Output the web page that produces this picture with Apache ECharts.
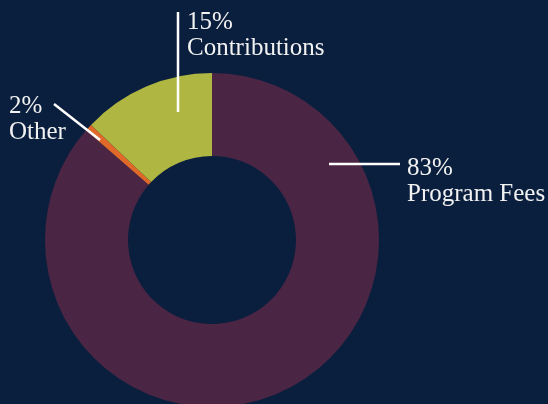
<!DOCTYPE html>
<html>
<head>
<meta charset="utf-8">
<script src="https://cdn.jsdelivr.net/npm/echarts@6/dist/echarts.min.js"></script>
<style>
  html, body { margin: 0; padding: 0; background: #0a1f3d; }
  #chart { width: 548px; height: 404px; }
</style>
</head>
<body>
<div id="chart"></div>
<script>
// slice names, drawn shares and printed labels
const categories = ['Program Fees', 'Other', 'Contributions'];
const shares = [86.4, 0.7, 12.9];
const percentLabels = ['83%', '2%', '15%'];
const sliceColors = ['#4a2544', '#e0692a', '#afb642'];

// where each callout sits (label top-left, and its leader line ends)
const callouts = [
  { x: 407, y: 155, line: [329, 164, 400, 164] },
  { x: 9, y: 93, line: [100, 140, 54, 104] },
  { x: 187, y: 9, line: [178, 112, 178, 12] },
];

const chart = echarts.init(document.getElementById('chart'));

chart.setOption({
  backgroundColor: '#0a1f3d',
  animation: false,
  graphic: callouts.map((c) => ({
    type: 'line',
    z: 100,
    shape: { x1: c.line[0], y1: c.line[1], x2: c.line[2], y2: c.line[3] },
    style: { stroke: '#ffffff', lineWidth: 2.5 },
  })),
  series: [
    {
      type: 'pie',
      center: [212, 240],
      radius: [84, 167],
      startAngle: 90,
      clockwise: true,
      avoidLabelOverlap: false,
      itemStyle: { borderWidth: 0 },
      label: {
        show: true,
        color: '#f2f2f2',
        fontFamily: 'Liberation Serif',
        fontSize: 25,
        lineHeight: 26,
        align: 'left',
        formatter: (p) => percentLabels[p.dataIndex] + '\n' + p.name,
      },
      labelLine: { show: false },
      labelLayout: (p) => {
        const c = callouts[p.dataIndex];
        return { x: c.x, y: c.y, align: 'left', verticalAlign: 'top' };
      },
      data: categories.map((name, i) => ({
        name: name,
        value: shares[i],
        itemStyle: { color: sliceColors[i] },
      })),
    },
  ],
});
</script>
</body>
</html>
